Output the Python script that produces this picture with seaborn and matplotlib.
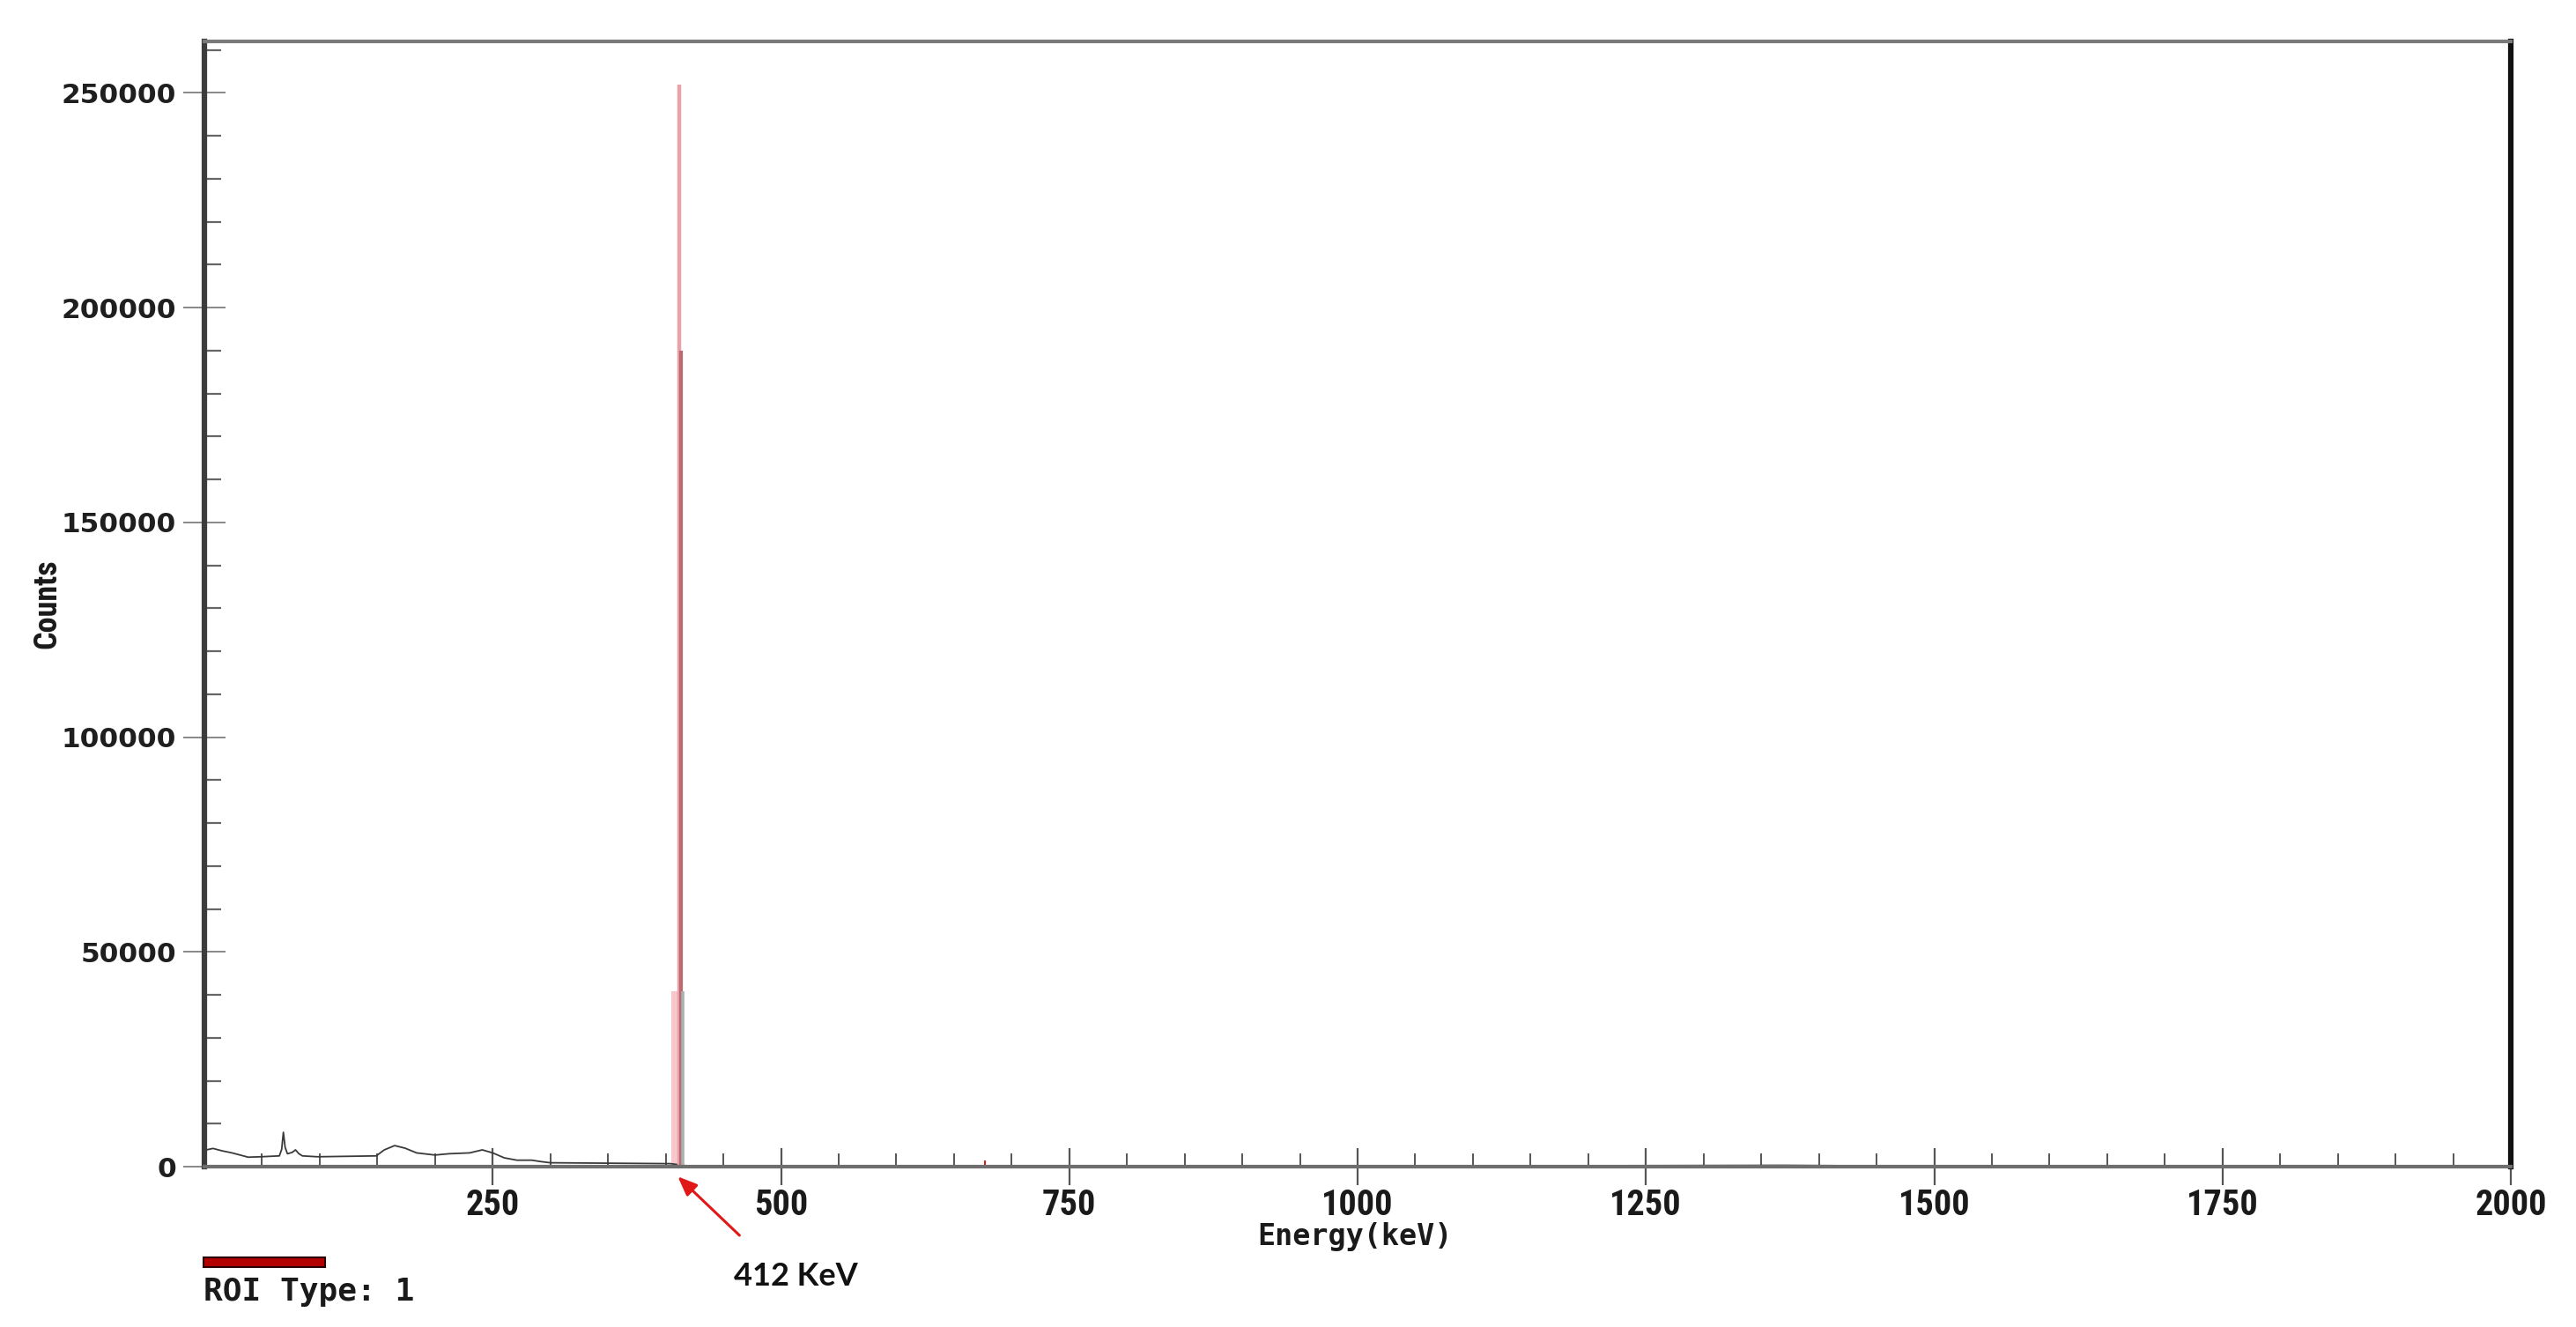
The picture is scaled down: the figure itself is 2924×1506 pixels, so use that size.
import matplotlib
matplotlib.use("Agg")
import matplotlib.pyplot as plt
from matplotlib import font_manager
from matplotlib.patches import Rectangle
from matplotlib.ticker import MultipleLocator, FixedLocator
import seaborn as sns
import pandas as pd

# ---------------- data ----------------
energy_kev = [0, 7.4, 15, 24, 38, 49, 65, 67, 68.5, 70, 72, 76, 79, 82, 85, 98,
              149, 156, 165, 174, 184, 200, 212, 230, 241, 250, 260, 271, 284,
              291, 300, 350, 400, 404, 418, 500, 677, 1000, 1370, 1500, 2000]
counts = [3800, 4240, 3700, 3200, 2200, 2300, 2500, 4000, 8000, 4500, 3000, 3300,
          3900, 3000, 2500, 2300, 2500, 3900, 4900, 4300, 3200, 2700, 3000, 3200,
          3900, 3200, 2050, 1500, 1500, 1200, 900, 800, 700, 700, 200, 150, 120,
          100, 300, 90, 80]

roi_base_energy = [404.6, 412.2]
roi_base_counts = 40800
roi_line_energy = [411.5, 413.6]
roi_line_counts = [252000, 190000]
edge_line_energy = 414.6
edge_line_counts = 40800
small_roi_energy = 677
small_roi_counts = 1400

x_ticks = [250, 500, 750, 1000, 1250, 1500, 1750, 2000]
x_tick_labels = ["250", "500", "750", "1000", "1250", "1500", "1750", "2000"]
y_ticks = [0, 50000, 100000, 150000, 200000, 250000]
y_tick_labels = ["0", "50000", "100000", "150000", "200000", "250000"]

peak_label = "412 KeV"
roi_label = "ROI Type: 1"
x_label = "Energy(keV)"
y_label = "Counts"

df = pd.DataFrame({"energy": energy_kev, "counts": counts})


def pick(names):
    for n in names:
        try:
            font_manager.findfont(n, fallback_to_default=False)
            return n
        except Exception:
            continue
    return "DejaVu Sans"


narrow = pick(["Liberation Sans Narrow", "Roboto Condensed", "DejaVu Sans Condensed", "DejaVu Sans"])
mono = pick(["DejaVu Sans Mono", "Liberation Mono"])
calib = pick(["Lato", "Open Sans", "DejaVu Sans"])

# ---------------- figure ----------------
sns.set_theme(style="white")
plt.rcParams["font.family"] = ["DejaVu Sans"]

fig = plt.figure(figsize=(29.24, 15.06), dpi=100)
ax = fig.add_axes([232 / 2924, 1 - 1324 / 1506, (2850 - 232) / 2924, (1324 - 47) / 1506])

sns.lineplot(data=df, x="energy", y="counts", ax=ax, color="#3a3a3a", linewidth=1.3)

# ROI peak
ax.fill_between(roi_base_energy, 0, roi_base_counts, color="#f6c8cc", linewidth=0)
ax.vlines(roi_line_energy[0], 0, roi_line_counts[0], color="#e9a2a9", linewidth=3.2)
ax.vlines(roi_line_energy[1], 0, roi_line_counts[1], color="#c06870", linewidth=3.0)
ax.vlines(edge_line_energy, 0, edge_line_counts, color="#a9b0b0", linewidth=2.6)
ax.vlines(small_roi_energy, 0, small_roi_counts, color="#d02020", linewidth=1.5)

ax.set_xlim(0, 2000)
ax.set_ylim(0, 262000)

# ticks
ax.xaxis.set_major_locator(FixedLocator(x_ticks))
ax.set_xticklabels(x_tick_labels)
ax.xaxis.set_minor_locator(MultipleLocator(50))
ax.yaxis.set_major_locator(FixedLocator(y_ticks))
ax.set_yticklabels(y_tick_labels)
ax.yaxis.set_minor_locator(MultipleLocator(10000))

ax.tick_params(axis="x", which="major", direction="inout", length=30, width=1.6,
               color="#555555", pad=3, bottom=True)
ax.tick_params(axis="x", which="minor", direction="in", length=11, width=1.4,
               color="#555555", bottom=True)
ax.tick_params(axis="y", which="major", direction="inout", length=34, width=1.4,
               color="#888888", pad=6, left=True)
ax.tick_params(axis="y", which="minor", direction="in", length=14, width=1.6,
               color="#666666", left=True)

for lab in ax.get_xticklabels():
    lab.set_fontfamily([narrow, "DejaVu Sans"])
    lab.set_fontsize(29)
    lab.set_fontweight("bold")
    lab.set_color("#1a1a1a")
for lab in ax.get_yticklabels():
    lab.set_fontfamily(["DejaVu Sans"])
    lab.set_fontsize(22.5)
    lab.set_fontweight("bold")
    lab.set_color("#1f1f1f")

# spines
ax.spines["left"].set_linewidth(4.5)
ax.spines["left"].set_color("#3c3c3c")
ax.spines["bottom"].set_linewidth(3.0)
ax.spines["bottom"].set_color("#6e6e6e")
ax.spines["top"].set_linewidth(3.0)
ax.spines["top"].set_color("#7a7a7a")
ax.spines["right"].set_linewidth(4.5)
ax.spines["right"].set_color("#111111")
for s in ax.spines.values():
    s.set_visible(True)

# labels
ax.set_xlabel(x_label, fontsize=24, fontweight="bold", family=[mono, "DejaVu Sans"], color="#1a1a1a")
ax.xaxis.set_label_coords(0.499, -0.0625)
ax.xaxis.label.set_va("center")
ax.set_ylabel(y_label, fontsize=26, fontweight="bold", family=[narrow, "DejaVu Sans"], color="#1a1a1a")
ax.yaxis.set_label_coords(-0.0684, 0.5)
ax.yaxis.label.set_va("center")

# annotation arrow + text
ax.annotate("", xy=(410.5, -2300), xytext=(464, -16000), xycoords="data",
            textcoords="data", annotation_clip=False,
            arrowprops=dict(arrowstyle="-|>,head_length=1.1,head_width=0.45",
                            color="#e01818", lw=2.2, shrinkA=0, shrinkB=0))
ax.text(459.5, -25600, peak_label, fontsize=26, fontweight="bold",
        family=[calib, "DejaVu Sans"], color="#111111", va="center", ha="left",
        clip_on=False)

# ROI legend bar and text
fig.patches.append(Rectangle((231 / 2924, 1 - 1438 / 1506), (369 - 231) / 2924, 11 / 1506,
                             transform=fig.transFigure, facecolor="#b30000",
                             edgecolor="#2a0000", linewidth=1.5))
fig.text(231 / 2924, 1 - 1466 / 1506, roi_label, fontsize=26, fontweight="bold",
         family=[mono, "DejaVu Sans"], color="#1a1a1a", va="center", ha="left")

fig.savefig("out.png", dpi=100, facecolor="white")
